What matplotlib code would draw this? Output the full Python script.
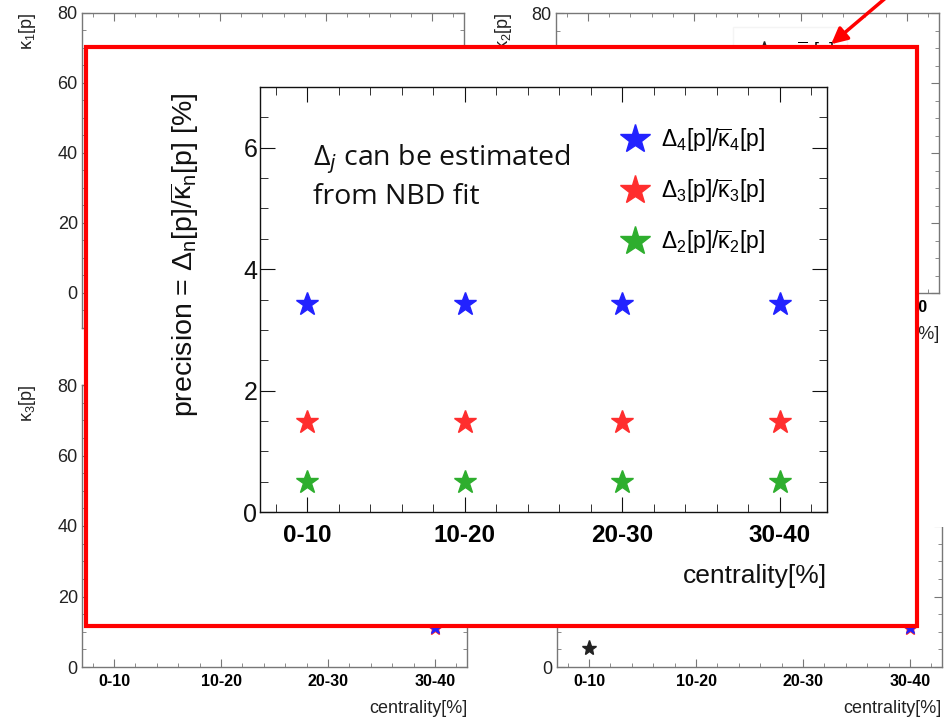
import numpy as np
import matplotlib
matplotlib.use("Agg")
import matplotlib.pyplot as plt
from matplotlib.patches import Rectangle, FancyArrowPatch
from matplotlib.lines import Line2D
from matplotlib.ticker import FixedLocator, MultipleLocator

W, H = 951, 719

centrality = ["0-10", "10-20", "20-30", "30-40"]

# precision of kappa_n from the NBD fit, in percent
prec_k4 = [3.43, 3.43, 3.43, 3.43]
prec_k3 = [1.49, 1.49, 1.49, 1.49]
prec_k2 = [0.50, 0.50, 0.50, 0.50]

# points of the kappa panels left uncovered below the frame
k3_idx = [3]
k3_blue = [11.0]
k3_red = [11.0]
k4_black_idx = [0]
k4_black = [5.5]
k4_idx = [3]
k4_blue = [11.0]
k4_red = [11.0]

BLUE, RED, GREEN = "#2222ff", "#ff2e2e", "#2eae2e"

plt.rcParams["font.family"] = ["Liberation Sans", "DejaVu Sans"]
plt.rcParams["mathtext.default"] = "regular"


def px_rect(l, t, r, b):
    return [l / W, 1 - b / H, (r - l) / W, (b - t) / H]


def root_style(ax, ylim, ymajor, yminor, xfs, yfs, maj, mnr, frame, xpad, ypad):
    x = np.arange(len(centrality))
    ax.set_xlim(-0.3, 3.3)
    ax.set_ylim(*ylim)
    ax.xaxis.set_major_locator(FixedLocator(x))
    ax.xaxis.set_minor_locator(FixedLocator(np.round(np.arange(-0.2, 3.21, 0.2), 1)))
    ax.set_xticklabels(centrality, fontweight="bold", fontsize=xfs)
    ax.yaxis.set_major_locator(MultipleLocator(ymajor))
    ax.yaxis.set_minor_locator(MultipleLocator(yminor))
    ax.tick_params(which="both", direction="in", top=True, right=True, color=frame)
    ax.tick_params(which="major", length=maj)
    ax.tick_params(which="minor", length=mnr)
    ax.tick_params(axis="x", pad=xpad)
    ax.tick_params(axis="y", pad=ypad, labelsize=yfs, labelcolor="#222222")
    for s in ax.spines.values():
        s.set_color(frame)
        s.set_linewidth(1.0)


fig = plt.figure(figsize=(W / 100, H / 100), dpi=100)

# four kappa panels in the back; labels that sit under the white frame are skipped
panels = {
    "k1": (px_rect(82, 13, 464, 328), (-10, 80), r"$\kappa_1$[p]", 28, 13),
    "k2": (px_rect(556, 13, 939, 293), (0, 80), r"$\kappa_2$[p]", 503, 13),
    "k3": (px_rect(82, 385, 467, 667), (0, 80), r"$\kappa_3$[p]", 28, 385),
    "k4": (px_rect(557, 385, 942, 667), (0, 80), None, 503, 385),
}
axes = {}
for key, (rect, ylim, ylab, lx, ly) in panels.items():
    ax = fig.add_axes(rect, zorder=1)
    root_style(ax, ylim, 20, 5, 11.5, 13, 6, 3, "#777777", 5, 3)
    if key != "k1":
        ax.set_xlabel("centrality[%]", loc="right", fontsize=13, color="#222222", labelpad=8)
    if ylab:
        fig.text(lx / W, 1 - ly / H, ylab, rotation=90, ha="center", va="top",
                 fontsize=13, color="#222222", zorder=1)
    axes[key] = ax

axes["k1"].set_xticklabels([])
axes["k2"].yaxis.set_major_formatter(lambda v, pos: "80" if v == 80 else "")
axes["k4"].yaxis.set_major_formatter(lambda v, pos: "0" if v == 0 else "")

axes["k3"].plot(k3_idx, k3_red, ls="none", marker="*", ms=11, color=RED)
axes["k3"].plot(k3_idx, k3_blue, ls="none", marker="*", ms=9, color=BLUE)
axes["k4"].plot(k4_black_idx, k4_black, ls="none", marker="*", ms=11, color="#222222")
axes["k4"].plot(k4_idx, k4_red, ls="none", marker="*", ms=11, color=RED)
axes["k4"].plot(k4_idx, k4_blue, ls="none", marker="*", ms=9, color=BLUE)

# legend of the kappa_2 panel, mostly hidden under the frame
k2_handle = Line2D([], [], ls="none", marker="*", ms=13, color="#222222")
axes["k2"].legend([k2_handle], [r"$\overline{\kappa}_2$[p]"], loc="upper left",
                  bbox_to_anchor=(733 / W, 1 - 27 / H), bbox_transform=fig.transFigure,
                  fontsize=13, frameon=True, edgecolor="#f2f2f2", fancybox=False,
                  borderaxespad=0, borderpad=0.72, handletextpad=0.8)

# white strip hiding the upper right corner of the kappa_4 panel
fig.add_artist(Rectangle((918 / W, 1 - 527 / H), 33 / W, 147 / H, transform=fig.transFigure,
                         facecolor="white", edgecolor="none", zorder=4))

# highlighted frame and arrow
fig.add_artist(Rectangle((86 / W, 1 - 626 / H), (917 - 86) / W, (626 - 47) / H,
                         transform=fig.transFigure, facecolor="white", edgecolor="red",
                         linewidth=3, zorder=5))
fig.add_artist(FancyArrowPatch((888 / W, 1 + 4 / H), (829 / W, 1 - 46 / H),
                               transform=fig.transFigure, arrowstyle="-|>",
                               mutation_scale=24, color="red", linewidth=2.5, zorder=6))

# precision plot
ax = fig.add_axes(px_rect(260, 87, 827, 512), zorder=10)
root_style(ax, (0, 7), 2, 0.5, 17.5, 18, 11, 6, "#111111", 9, 2)
ax.tick_params(axis="y", labelcolor="#111111")
x = np.arange(len(centrality))
h4, = ax.plot(x, prec_k4, ls="none", marker="*", ms=17, color=BLUE)
h3, = ax.plot(x, prec_k3, ls="none", marker="*", ms=17, color=RED)
h2, = ax.plot(x, prec_k2, ls="none", marker="*", ms=17, color=GREEN)
ax.set_xlabel("centrality[%]", loc="right", fontsize=19, color="#111111", labelpad=12)
fig.text(185 / W, 1 - 255 / H, r"precision = $\Delta_n$[p]/$\overline{\kappa}_n$[p] [%]",
         rotation=90, ha="center", va="center", fontsize=20.5, color="#111111", zorder=11)

leg = ax.legend([h4, h3, h2],
                [r"$\Delta_4$[p]/$\overline{\kappa}_4$[p]",
                 r"$\Delta_3$[p]/$\overline{\kappa}_3$[p]",
                 r"$\Delta_2$[p]/$\overline{\kappa}_2$[p]"],
                loc="upper left", bbox_to_anchor=(620 / W, 1 - 126 / H),
                bbox_transform=fig.transFigure, frameon=False, fontsize=16.5,
                borderaxespad=0, borderpad=0, handlelength=1.3, handletextpad=0.5,
                labelspacing=1.02, markerscale=1.3)

fig.text(313 / W, 1 - 143 / H, "$\\Delta_{\\mathit{j}}$ can be estimated\nfrom NBD fit",
         family="Open Sans", fontsize=20.5, ha="left", va="top", linespacing=1.32,
         color="#111111", zorder=11)

fig.savefig("out.png", dpi=100)
